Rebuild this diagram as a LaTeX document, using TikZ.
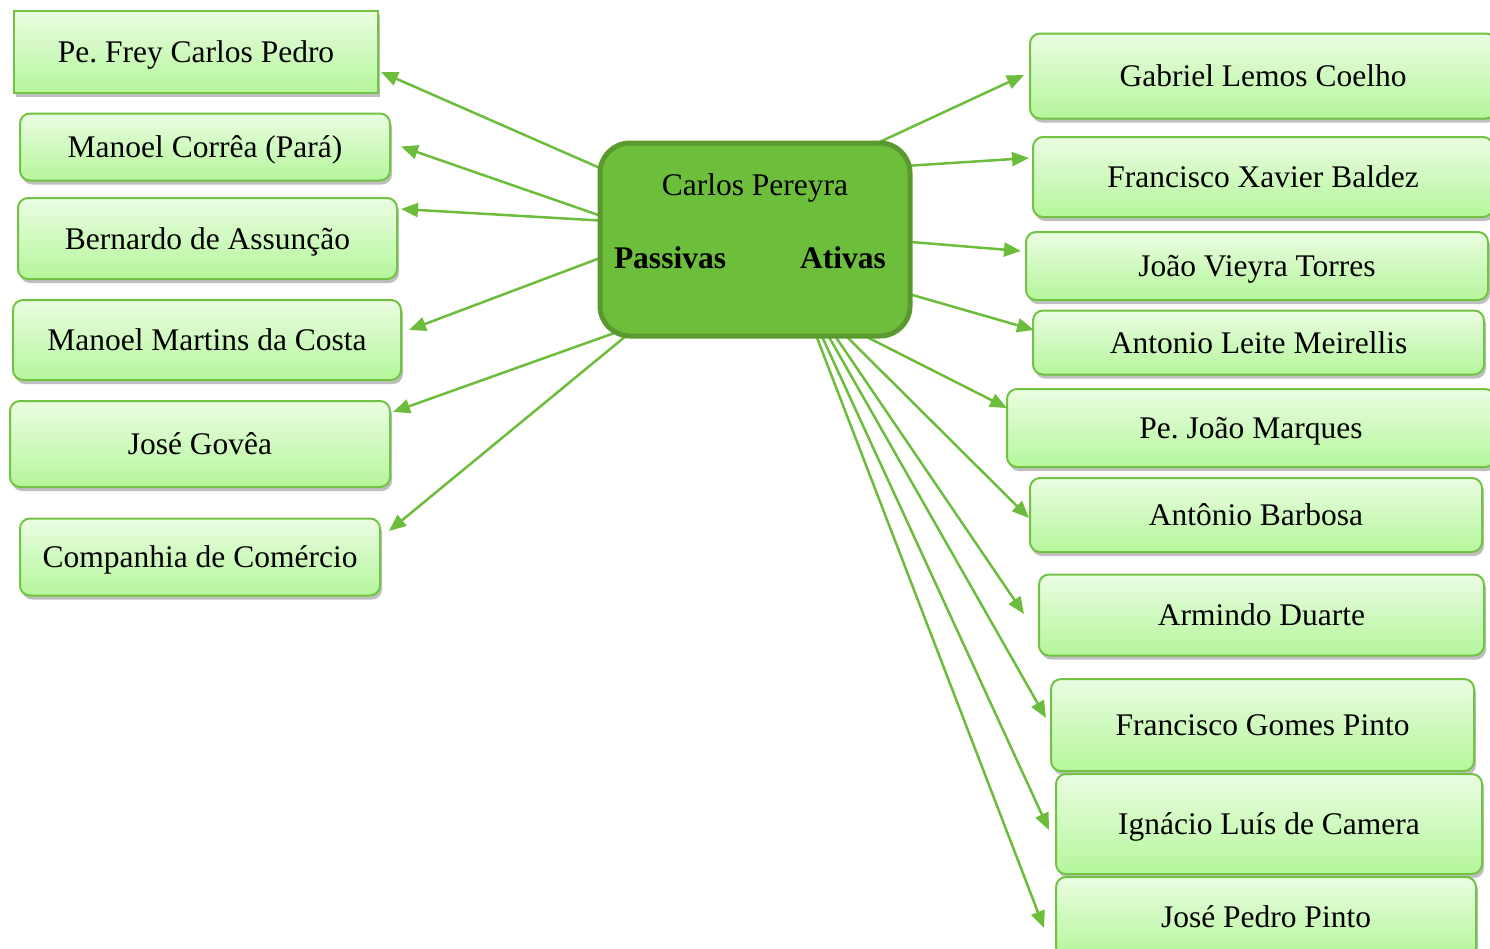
\documentclass[tikz,border=0pt]{standalone}
\usepackage{fontspec}
\setmainfont{Liberation Serif}
\usetikzlibrary{arrows.meta,shadows,calc}
\frenchspacing

\definecolor{linkgreen}{HTML}{6CBD3C}
\definecolor{hubfill}{HTML}{6DBE3B}
\definecolor{hubedge}{HTML}{5A992F}
\definecolor{leafedge}{HTML}{72C244}
\definecolor{leaftop}{HTML}{EAFDE2}
\definecolor{leafbottom}{HTML}{B5F69B}

\tikzset{
  leaf/.style={draw=leafedge, line width=2pt, rounded corners=10pt,
    top color=leaftop, bottom color=leafbottom, inner sep=0pt,
    text height=21pt, text depth=0pt,
    drop shadow={shadow xshift=2pt, shadow yshift=-4pt, fill=black, opacity=0.25},
    font=\fontsize{31.5}{36}\selectfont},
  hub/.style={draw=hubedge, line width=5pt, rounded corners=30pt, fill=hubfill},
  hubtext/.style={anchor=base, inner sep=0pt, font=\fontsize{31.5}{36}\selectfont},
  link/.style={draw=linkgreen, line width=2.5pt, -{Triangle[length=17pt,width=14pt]}},
}

\begin{document}
\begin{tikzpicture}[x=1pt,y=-1pt]
\useasboundingbox (0,0) rectangle (1490,948);

% left column: passive relations
\node[leaf, sharp corners, minimum width=364pt, minimum height=82pt] (p1) at (196,51.5) {Pe. Frey Carlos Pedro};
\node[leaf, minimum width=370pt, minimum height=67pt] (p2) at (205,147) {Manoel Corrêa (Pará)};
\node[leaf, minimum width=379pt, minimum height=81pt] (p3) at (207.5,238.5) {Bernardo de Assunção};
\node[leaf, minimum width=388pt, minimum height=80pt] (p4) at (207,340) {Manoel Martins da Costa};
\node[leaf, minimum width=380pt, minimum height=86pt] (p5) at (200,444) {José Govêa};
\node[leaf, minimum width=360pt, minimum height=77pt] (p6) at (200,557) {Companhia de Comércio};

% right column: active relations
\node[leaf, minimum width=466pt, minimum height=85pt] (q1) at (1263,76) {Gabriel Lemos Coelho};
\node[leaf, minimum width=460pt, minimum height=80pt] (q2) at (1263,177) {Francisco Xavier Baldez};
\node[leaf, minimum width=462pt, minimum height=68pt] (q3) at (1257,266) {João Vieyra Torres};
\node[leaf, minimum width=451pt, minimum height=64pt] (q4) at (1258.5,342.5) {Antonio Leite Meirellis};
\node[leaf, minimum width=488pt, minimum height=78pt] (q5) at (1251,428) {Pe. João Marques};
\node[leaf, minimum width=452pt, minimum height=74pt] (q6) at (1256,515) {Antônio Barbosa};
\node[leaf, minimum width=445pt, minimum height=81pt] (q7) at (1261.5,615) {Armindo Duarte};
\node[leaf, minimum width=423pt, minimum height=92pt] (q8) at (1262.5,725) {Francisco Gomes Pinto};
\node[leaf, minimum width=426pt, minimum height=100pt] (q9) at (1269,824) {Ignácio Luís de Camera};
\node[leaf, minimum width=420pt, minimum height=80pt] (q10) at (1266,917) {José Pedro Pinto};

% connector origins inside the central box
\coordinate (l1) at (609,172);
\coordinate (l2) at (607,218);
\coordinate (l3) at (608,221);
\coordinate (l4) at (608,255);
\coordinate (l5) at (620,331);
\coordinate (l6) at (632,331);
\coordinate (r1) at (830,165);
\coordinate (r2) at (843,170);
\coordinate (r3) at (850,237);
\coordinate (r4) at (850,277);
\coordinate (r5) at (855,331);
\coordinate (r6) at (840,330);
\coordinate (r7) at (831,330);
\coordinate (r8) at (825,330);
\coordinate (r9) at (819,330);
\coordinate (r10) at (814,330);

% connectors
\draw[link] (l1) -- ($(p1.east)+(2,20.5)$);
\draw[link] (l2) -- ($(p2.east)+(10,-0.5)$);
\draw[link] (l3) -- ($(p3.east)+(3,-29.5)$);
\draw[link] (l4) -- ($(p4.east)+(7,-10)$);
\draw[link] (l5) -- ($(p5.east)+(2,-32)$);
\draw[link] (l6) -- ($(p6.east)+(8,-26)$);

\draw[link] (r1) -- ($(q1.west)+(-5,-1)$);
\draw[link] (r2) -- ($(q2.west)+(-3,-19)$);
\draw[link] (r3) -- ($(q3.west)+(-4,-15)$);
\draw[link] (r4) -- ($(q4.west)+(2,-12.5)$);
\draw[link] (r5) -- ($(q5.west)+(1,-20)$);
\draw[link] (r6) -- ($(q6.west)+(0,3)$);
\draw[link] (r7) -- ($(q7.west)+(-14,-1)$);
\draw[link] (r8) -- ($(q8.west)+(-4,-7)$);
\draw[link] (r9) -- ($(q9.west)+(-6,6)$);
\draw[link] (r10) -- ($(q10.west)+(-11,11)$);

% central box
\node[hub, minimum width=310pt, minimum height=193pt] (hub) at (755,239.5) {};
\node[hubtext] (name) at (755,195) {Carlos Pereyra};
\node[hubtext] (pas) at (670,268) {\bfseries Passivas};
\node[hubtext] (act) at (843,268) {\bfseries Ativas};
\end{tikzpicture}
\end{document}
